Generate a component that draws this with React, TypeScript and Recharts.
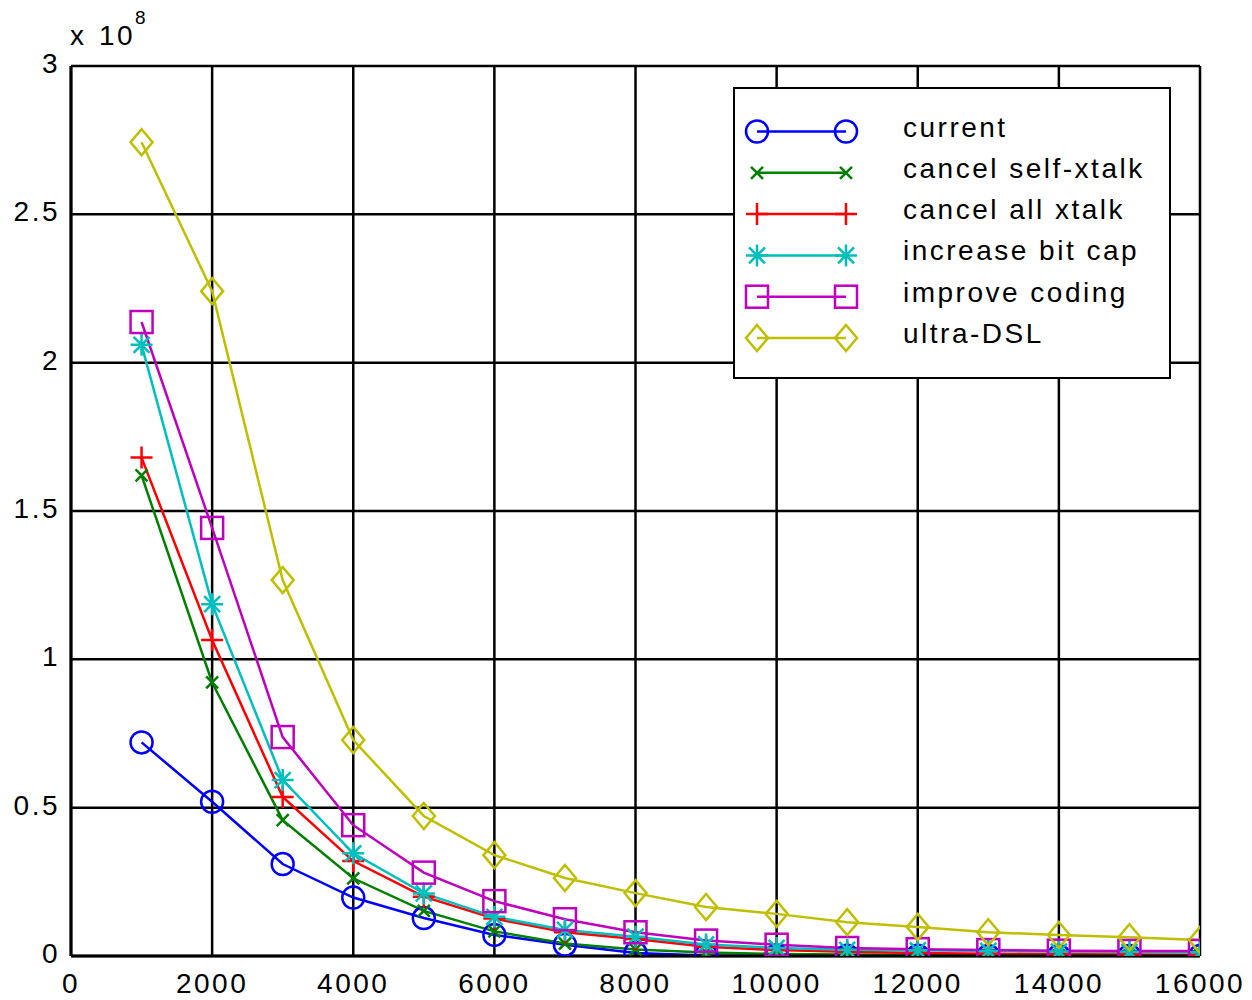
import React from 'react';
import { LineChart, Line, XAxis, YAxis, CartesianGrid, Legend, Customized } from 'recharts';

const xValues = [1000, 2000, 3000, 4000, 5000, 6000, 7000, 8000, 9000, 10000, 11000, 12000, 13000, 14000, 15000, 16000];
const current = [0.72, 0.52, 0.31, 0.197, 0.128, 0.071, 0.038, 0.01, 0.002, 0.001, 0.001, 0.001, 0.0, 0.0, 0.0, 0.0];
const cancelSelf = [1.62, 0.922, 0.458, 0.262, 0.152, 0.083, 0.042, 0.022, 0.012, 0.007, 0.005, 0.003, 0.002, 0.001, 0.001, 0.001];
const cancelAll = [1.68, 1.065, 0.536, 0.32, 0.2, 0.126, 0.08, 0.057, 0.031, 0.02, 0.014, 0.01, 0.008, 0.006, 0.005, 0.004];
const bitCap = [2.06, 1.186, 0.593, 0.346, 0.211, 0.132, 0.088, 0.065, 0.039, 0.027, 0.021, 0.019, 0.017, 0.015, 0.014, 0.013];
const coding = [2.137, 1.443, 0.738, 0.441, 0.281, 0.185, 0.124, 0.08, 0.052, 0.038, 0.027, 0.023, 0.02, 0.018, 0.017, 0.017];
const ultra = [2.743, 2.241, 1.267, 0.728, 0.472, 0.34, 0.263, 0.212, 0.165, 0.142, 0.114, 0.098, 0.08, 0.071, 0.063, 0.054];

const xTicks = [0, 2000, 4000, 6000, 8000, 10000, 12000, 14000, 16000];
const yTicks = [0, 0.5, 1, 1.5, 2, 2.5, 3];
const yTickLabels = ['0', '0.5', '1', '1.5', '2', '2.5', '3'];

const seriesNames = ['current', 'cancel self-xtalk', 'cancel all xtalk', 'increase bit cap', 'improve coding', 'ultra-DSL'];
const seriesKeys = ['current', 'cancelSelf', 'cancelAll', 'bitCap', 'coding', 'ultra'];
const seriesValues = [current, cancelSelf, cancelAll, bitCap, coding, ultra];
const seriesColors = ['#0000FF', '#008000', '#FF0000', '#00BFBF', '#BF00BF', '#BFBF00'];
const seriesShapes = ['o', 'x', '+', '*', 's', 'd'];

const data = xValues.map((x, i) => {
  const row: any = { x };
  seriesKeys.forEach((k, j) => {
    row[k] = seriesValues[j][i];
  });
  return row;
});

const FONT = '"Liberation Sans", Arial, Helvetica, sans-serif';
const SW = 2.5;

function Marker({ shape, cx, cy, color }: { shape: string; cx: number; cy: number; color: string }) {
  const common = { fill: 'none', stroke: color, strokeWidth: SW };
  switch (shape) {
    case 'o':
      return <circle cx={cx} cy={cy} r={11} {...common} />;
    case 'x':
      return <path d={`M${cx - 6},${cy - 6}L${cx + 6},${cy + 6}M${cx - 6},${cy + 6}L${cx + 6},${cy - 6}`} {...common} />;
    case '+':
      return <path d={`M${cx - 11},${cy}L${cx + 11},${cy}M${cx},${cy - 11}L${cx},${cy + 11}`} {...common} />;
    case '*':
      return (
        <path
          d={`M${cx - 11},${cy}L${cx + 11},${cy}M${cx},${cy - 11}L${cx},${cy + 11}M${cx - 8},${cy - 8}L${cx + 8},${cy + 8}M${cx - 8},${cy + 8}L${cx + 8},${cy - 8}`}
          {...common}
        />
      );
    case 's':
      return <rect x={cx - 11} y={cy - 11} width={22} height={22} {...common} />;
    case 'd':
      return <path d={`M${cx},${cy - 13}L${cx + 11},${cy}L${cx},${cy + 13}L${cx - 11},${cy}Z`} {...common} />;
    default:
      return null;
  }
}

const makeDot = (shape: string, color: string) => (props: any) => {
  const { cx, cy, index } = props;
  if (cx == null || cy == null) return <g key={index} />;
  return (
    <g key={`${shape}-${index}`}>
      <Marker shape={shape} cx={cx} cy={cy} color={color} />
    </g>
  );
};

const XTick = (props: any) => {
  const { x, y, payload } = props;
  return (
    <text x={x} y={y + 37} textAnchor="middle" fontSize={28} fontFamily={FONT} letterSpacing={2.5} fill="#000">
      {String(payload.value)}
    </text>
  );
};

const YTick = (props: any) => {
  const { x, y, payload } = props;
  const idx = yTicks.indexOf(payload.value);
  return (
    <text x={x - 11} y={y + 7} textAnchor="end" fontSize={28} fontFamily={FONT} letterSpacing={2.5} fill="#000">
      {idx >= 0 ? yTickLabels[idx] : String(payload.value)}
    </text>
  );
};

const LegendBox = () => {
  const rowY0 = 44.5;
  const rowStep = 41.3;
  return (
    <div
      style={{
        width: 434,
        height: 288,
        border: '2px solid #000',
        background: '#fff',
      }}
    >
      <svg width={434} height={288} style={{ display: 'block' }}>
        {seriesNames.map((name, i) => {
          const y = rowY0 + i * rowStep - 2;
          return (
            <g key={name}>
              <line x1={22} x2={111} y1={y} y2={y} stroke={seriesColors[i]} strokeWidth={SW} />
              <Marker shape={seriesShapes[i]} cx={22} cy={y} color={seriesColors[i]} />
              <Marker shape={seriesShapes[i]} cx={111} cy={y} color={seriesColors[i]} />
              <text x={168} y={y + 5} fontSize={28} fontFamily={FONT} letterSpacing={2.5} fill="#000">
                {name}
              </text>
            </g>
          );
        })}
      </svg>
    </div>
  );
};

const ScaleLabel = () => (
  <g fontFamily={FONT} fill="#000">
    <text x={70} y={45} fontSize={28}>x</text>
    <text x={99} y={45} fontSize={28} letterSpacing={2.5}>10</text>
    <text x={135} y={24} fontSize={19}>8</text>
  </g>
);

export default function App() {
  return (
    <div style={{ position: 'absolute', left: 0, top: 0, width: 1252, height: 1000, background: '#fff' }}>
      <LineChart width={1252} height={1000} data={data} margin={{ top: 66, right: 52, left: 0, bottom: 0 }}>
        <CartesianGrid stroke="#000" strokeWidth={2.5} strokeDasharray="" fill="#fff" />
        <XAxis
          dataKey="x"
          type="number"
          domain={[0, 16000]}
          ticks={xTicks}
          interval={0}
          height={44}
          tickLine={false}
          tickSize={0}
          tickMargin={0}
          axisLine={{ stroke: '#000', strokeWidth: 3 }}
          tick={<XTick />}
          allowDataOverflow
        />
        <YAxis
          type="number"
          domain={[0, 3]}
          ticks={yTicks}
          interval={0}
          width={71}
          tickLine={false}
          tickSize={0}
          tickMargin={0}
          axisLine={{ stroke: '#000', strokeWidth: 3 }}
          tick={<YTick />}
          allowDataOverflow
        />
        {seriesKeys.map((k, i) => (
          <Line
            key={k}
            type="linear"
            dataKey={k}
            name={seriesNames[i]}
            stroke={seriesColors[i]}
            strokeWidth={SW}
            dot={makeDot(seriesShapes[i], seriesColors[i])}
            activeDot={false}
            isAnimationActive={false}
          />
        ))}
        <Legend
          layout="horizontal"
          verticalAlign="middle"
          align="center"
          content={() => <LegendBox />}
          wrapperStyle={{ position: 'absolute', left: 733, top: 87, width: 438, height: 292 }}
        />
        <Customized component={ScaleLabel} />
      </LineChart>
    </div>
  );
}
